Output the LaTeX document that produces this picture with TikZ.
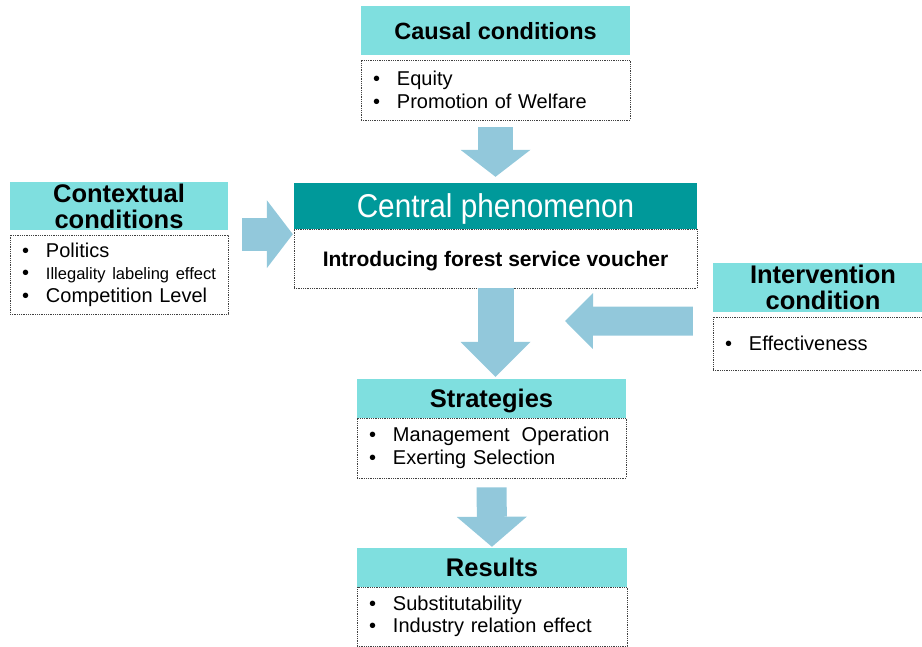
\documentclass[tikz,border=0pt]{standalone}
\usepackage{fontspec}
\setmainfont{Liberation Sans}
\newfontfamily\tallfont[FakeStretch=0.9]{Liberation Sans}
\usetikzlibrary{arrows.meta}

\definecolor{lightteal}{HTML}{7FDFDF}
\definecolor{darkteal}{HTML}{00999A}
\definecolor{arrowblue}{HTML}{92C8DB}

\newcommand{\bul}[1]{\makebox[24pt][l]{\textbullet}#1}

\begin{document}
\begin{tikzpicture}[x=1pt, y=-1pt,
        titlebox/.style={fill=lightteal, inner sep=0pt, text depth=0pt, align=center, font=\fontsize{25.5}{26}\selectfont\bfseries},
        itembox/.style={draw=black!75, densely dotted, line width=0.8pt, inner xsep=12pt, inner ysep=0pt, align=left, font=\fontsize{20}{22.5}\selectfont},
        bigarrow/.style n args={3}{draw=arrowblue, line width=#1pt, -{Triangle[width=#2pt, length=#3pt, line width=0pt]}}]

        \clip (0, 0) rectangle (922, 647);

        \node[titlebox, minimum width=269pt, minimum height=49pt, font=\fontsize{23.5}{26}\selectfont\bfseries] (causal) at (495.5, 30.5) {Causal conditions};
        \node[itembox, text width=245pt, minimum height=60pt] (causalItems) at (495.5, 90) {\bul{Equity}\\ \bul{Promotion of Welfare}};

        \node[fill=darkteal, text=white, inner sep=0pt, text depth=0pt, minimum width=403pt, minimum height=46pt, font=\tallfont\fontsize{33}{36}\selectfont] (central) at (495.5, 206) {Central phenomenon};
        \node[itembox, minimum width=403pt, minimum height=59pt, text depth=0pt, align=center, font=\fontsize{21}{24}\selectfont\bfseries] (centralItems) at (495.5, 258.5) {Introducing forest service voucher};

        \node[titlebox, minimum width=218pt, minimum height=48pt] (context) at (119, 206) {Contextual\\conditions};
        \node[itembox, text width=194pt, minimum height=79pt] (contextItems) at (119, 274.5) {\bul{Politics}\\ \bul{{\fontsize{16.5}{22.5}\selectfont Illegality labeling effect}}\\ \bul{Competition Level}};

        \node[titlebox, minimum width=220pt, minimum height=49pt] (interv) at (823, 287.5) {Intervention\\condition};
        \node[itembox, text width=196pt, minimum height=53pt] (intervItems) at (823, 343.5) {\bul{Effectiveness}};

        \node[titlebox, minimum width=269pt, minimum height=39pt] (strat) at (491.5, 398.5) {Strategies};
        \node[itembox, text width=245pt, minimum height=60pt] (stratItems) at (491.5, 448) {\bul{Management\hspace{12pt}Operation}\\ \bul{Exerting Selection}};

        \node[titlebox, minimum width=270pt, minimum height=39pt] (results) at (492, 567.5) {Results};
        \node[itembox, text width=246pt, minimum height=59pt] (resultsItems) at (492, 616.5) {\bul{Substitutability}\\ \bul{Industry relation effect}};

        \coordinate (intervTip) at (565, 321);

        \draw[bigarrow={35}{70}{27}, shorten <=7pt, shorten >=6pt] (causalItems) -- (central);
        \draw[bigarrow={33}{68}{26}, shorten <=14pt, shorten >=1pt] ([yshift=-4pt]context.south east) -- ([yshift=-5pt]central.south west);
        \draw[bigarrow={36}{70}{35}, shorten >=2pt] (centralItems.south) -- (centralItems.south |- strat.north);
        \draw[bigarrow={29}{56}{28}, shorten <=20pt] ([yshift=-9pt]interv.south west) -- (intervTip);
        \draw[bigarrow={30}{70}{30}, shorten <=9pt, shorten >=1pt] (stratItems) -- (results);
    \end{tikzpicture}
\end{document}
